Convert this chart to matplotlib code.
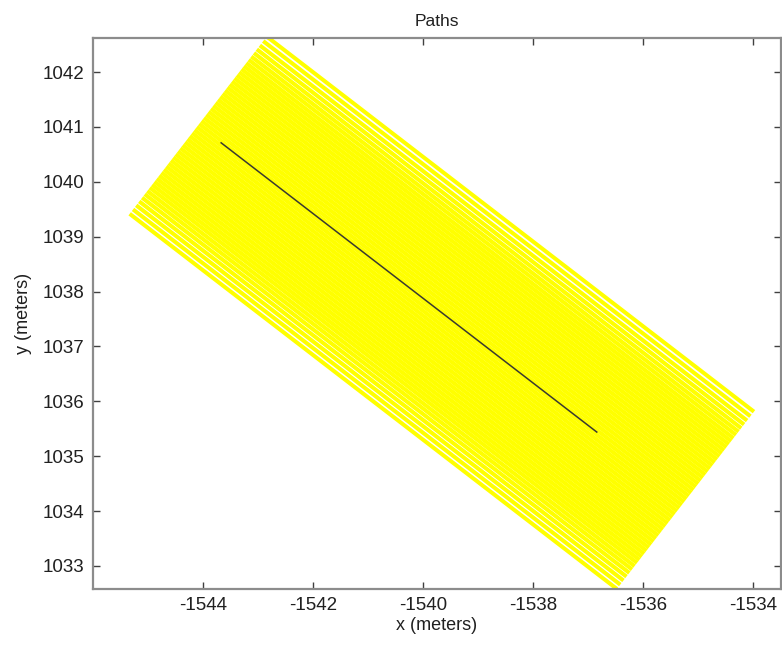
import numpy as np
import matplotlib
matplotlib.use('Agg')
import matplotlib.pyplot as plt

plt.rcParams['font.family'] = ['Liberation Sans', 'DejaVu Sans']
plt.rcParams['axes.unicode_minus'] = False

# reference path (dark line), start and end in meters
ref_x = [-1543.67, -1536.84]
ref_y = [1040.71, 1035.44]

# sideways offsets of the planned paths from the reference line (m)
path_offsets = [-2.04, -1.94, -1.845, -1.755, -1.67, -1.59, -1.515,
                -1.44, -1.37, -1.30, -1.23, -1.16, -1.09, -1.02, -0.95,
                -0.88, -0.81, -0.74, -0.67, -0.60, -0.53, -0.46,
                -0.39, -0.32, -0.25, -0.18, -0.11, -0.04, 0.03,
                0.10, 0.17, 0.24, 0.31, 0.38, 0.45, 0.52, 0.59,
                0.66, 0.73, 0.80, 0.87, 0.94, 1.01, 1.08, 1.15,
                1.22, 1.29, 1.36, 1.43, 1.505, 1.58, 1.66, 1.745,
                1.835, 1.935, 2.04]
# along-track extent of the paths, relative to the reference midpoint (m)
path_start = -4.84
path_end = 6.35

xticks = [-1544, -1542, -1540, -1538, -1536, -1534]
yticks = [1033, 1034, 1035, 1036, 1037, 1038, 1039, 1040, 1041, 1042]

fig = plt.figure(figsize=(7.82, 6.49), dpi=100)
ax = fig.add_axes([93 / 782, 60 / 649, 688 / 782, 551 / 649])

mid = np.array([np.mean(ref_x), np.mean(ref_y)])
u = np.array([ref_x[1] - ref_x[0], ref_y[1] - ref_y[0]])
u = u / np.linalg.norm(u)
n = np.array([-u[1], u[0]])

for off in path_offsets:
    p0 = mid + n * off + u * path_start
    p1 = mid + n * off + u * path_end
    ax.plot([p0[0], p1[0]], [p0[1], p1[1]], color='#ffff00', lw=2.9,
            solid_capstyle='butt')

ax.plot(ref_x, ref_y, color='#3a3a30', lw=1.1)

ax.set_xlim(-1546.0, -1533.49)
ax.set_ylim(1032.58, 1042.62)
ax.set_xticks(xticks)
ax.set_yticks(yticks)
ax.tick_params(direction='in', length=5, width=1, colors='#404040',
               labelcolor='#202020', labelsize=13.5, top=True, right=True, pad=6)
for s in ax.spines.values():
    s.set_color('#8c8c8c')
    s.set_linewidth(1.6)

ax.set_title('Paths', fontsize=12.5, color='#202020', pad=9)
ax.set_xlabel('x (meters)', fontsize=13, color='#202020', labelpad=2)
ax.set_ylabel('y (meters)', fontsize=13, color='#202020', labelpad=8)

fig.savefig('out.png', dpi=100)
